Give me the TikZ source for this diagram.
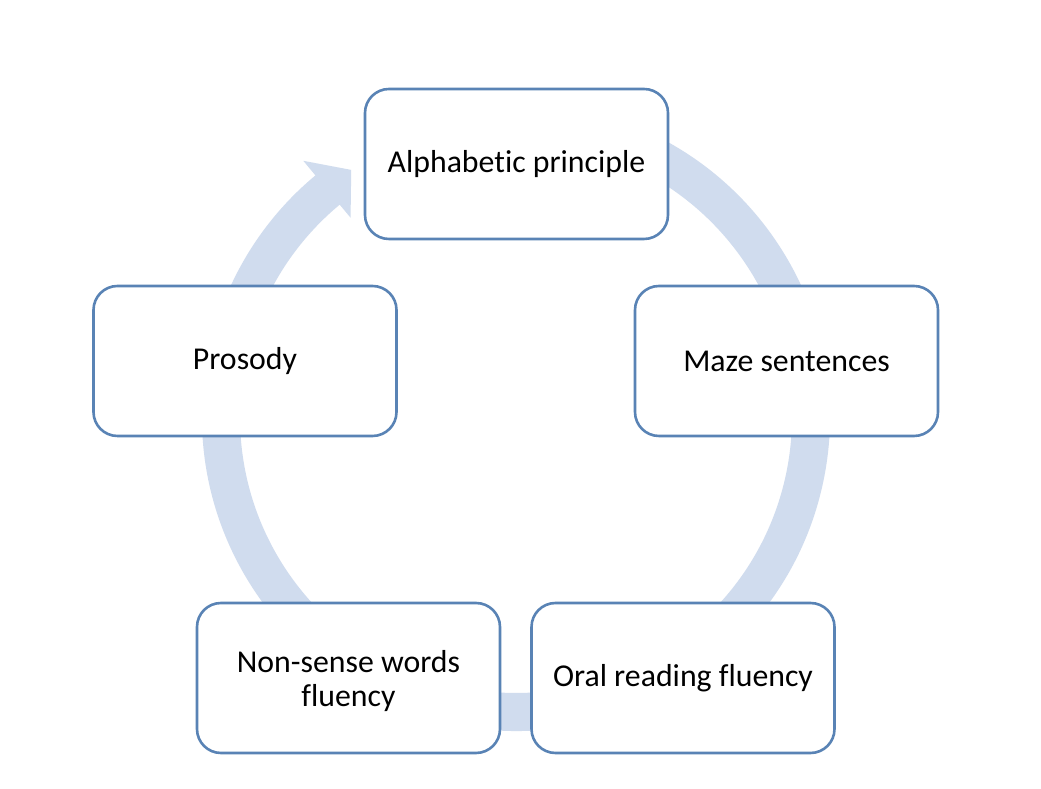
\documentclass[tikz,border=0pt]{standalone}
\usepackage{fontspec}
\setmainfont{Carlito}[Ligatures={NoCommon}]
\usetikzlibrary{calc}
\definecolor{ringblue}{RGB}{208,220,238}
\definecolor{boxblue}{RGB}{89,131,181}
\tikzset{
  cyclebox/.style={draw=boxblue, line width=2.6pt, fill=white, rounded corners=24pt,
    minimum width=303pt, minimum height=150pt, align=center, text=black,
    font=\fontsize{31.8}{34}\selectfont, inner sep=0pt},
  ringband/.style={fill=ringblue}
}
\begin{document}
\begin{tikzpicture}[x=1pt,y=1pt]
\useasboundingbox[fill=white] (0,0) rectangle (1041,789);
\coordinate (C) at (516,372);
% ring arrow
\fill[ringband] ($(C)+(80:314pt)$) arc[start angle=80, end angle=-230.3, radius=314pt]
  -- ($(C)+(-230.3:333pt)$) -- ($(C)+(-236.3:297pt)$) -- ($(C)+(-230.3:259pt)$)
  -- ($(C)+(-230.3:276pt)$) arc[start angle=-230.3, end angle=80, radius=276pt] -- cycle;
% boxes
\node[cyclebox] (alpha) at (516.5,625) {Alphabetic principle};
\node[cyclebox] (maze) at (786.5,428) {Maze sentences};
\node[cyclebox] (oral) at (683,111) {Oral reading fluency};
\node[cyclebox] (nonsense) at (348.5,111) {\raisebox{-4.5pt}[\height][\depth]{\begin{tabular}{@{}c@{}}Non-sense words\\fluency\end{tabular}}};
\node[cyclebox] (prosody) at (245,428) {Prosody};
\end{tikzpicture}
\end{document}
